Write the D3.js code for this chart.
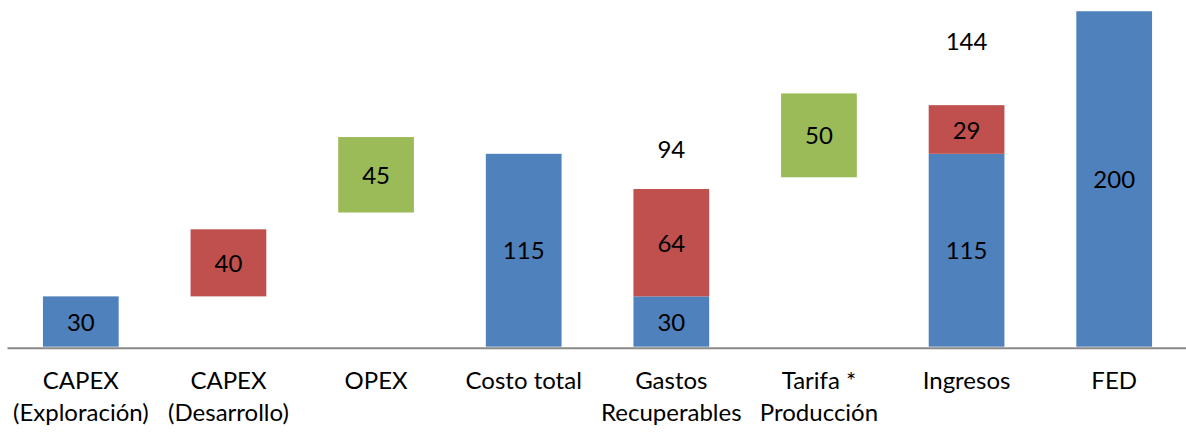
<!DOCTYPE html>
<html>
<head>
<meta charset="utf-8">
<script src="https://cdn.jsdelivr.net/npm/d3@7"></script>
<style>
  body { margin: 0; background: #fff; }
  #chart svg { display: block; }
  #chart text { font-family: Lato, "Open Sans", sans-serif; fill: #000; }
</style>
</head>
<body>
<div id="chart"></div>
<script>
// categorias (salto de linea = segunda linea de la etiqueta)
const categories = [
  "CAPEX\n(Exploración)", "CAPEX\n(Desarrollo)", "OPEX", "Costo total",
  "Gastos\nRecuperables", "Tarifa *\nProducción", "Ingresos", "FED"
];
// serie invisible que levanta las barras flotantes
const base_values   = [0, 30, 80, 0, 0, 101, 0, 0];
const blue_values   = [30, 0, 0, 115, 30, 0, 115, 200];
const red_values    = [0, 40, 0, 0, 64, 0, 29, 0];
const green_values  = [0, 0, 45, 0, 0, 50, 0, 0];
// serie invisible encima, su etiqueta muestra el total
const spacer_values = [0, 0, 0, 0, 48, 0, 77, 0];
const total_labels  = [null, null, null, null, 94, null, 144, null];

const __CONFIG__ = {
  main_id: "chart",
  width: 1186,
  height: 432,
  y_max: 206.7,
  font_size: 24,
  colors: {base: "none", blue: "#4F81BD", red: "#C0504D", green: "#9BBB59", spacer: "none"}
};

function select_main(config=__CONFIG__) {
  return d3.select(`#${config.main_id}`);
}

function draw_chart(config=__CONFIG__) {
  const svg = select_main().append("svg")
    .attr("width", config.width)
    .attr("height", config.height);

  const keys = ["base", "blue", "red", "green", "spacer"];
  const rows = categories.map((c, i) => ({
    idx: i,
    base: base_values[i],
    blue: blue_values[i],
    red: red_values[i],
    green: green_values[i],
    spacer: spacer_values[i]
  }));
  const series = d3.stack().keys(keys)(rows);

  const x = d3.scaleBand()
    .domain(d3.range(categories.length))
    .range([7, 1188])
    .paddingInner(0.487)
    .paddingOuter(0.2435);
  const y = d3.scaleLinear()
    .domain([0, config.y_max])
    .range([346.7, 0]);

  // barras
  const groups = svg.selectAll("g.series")
    .data(series)
    .join("g")
    .classed("series", true)
    .attr("fill", d => config.colors[d.key]);

  groups.selectAll("rect")
    .data(d => d.filter(p => p[1] - p[0] > 0))
    .join("rect")
    .attr("x", p => x(p.data.idx))
    .attr("width", x.bandwidth())
    .attr("y", p => y(p[1]))
    .attr("height", p => y(p[0]) - y(p[1]));

  // etiquetas de valor dentro de las barras visibles
  const labels = svg.append("g").attr("font-size", config.font_size);
  for (const s of series) {
    if (s.key == "base") continue;
    for (const p of s) {
      const v = p[1] - p[0];
      if (v <= 0) continue;
      const txt = s.key == "spacer" ? total_labels[p.data.idx] : v;
      if (txt == null) continue;
      labels.append("text")
        .attr("x", x(p.data.idx) + x.bandwidth() / 2)
        .attr("y", (y(p[0]) + y(p[1])) / 2)
        .attr("dy", "0.38em")
        .attr("text-anchor", "middle")
        .text(txt);
    }
  }

  // eje x
  const axis = svg.append("g")
    .attr("transform", "translate(0,347.7)")
    .call(d3.axisBottom(x).tickSize(0).tickFormat(""));
  axis.select(".domain")
    .attr("stroke", "#898989")
    .attr("stroke-width", 2);

  const cat = svg.append("g").attr("font-size", config.font_size);
  cat.selectAll("text")
    .data(categories)
    .join("text")
    .attr("text-anchor", "middle")
    .attr("transform", (d, i) => `translate(${x(i) + x.bandwidth() / 2},389)`)
    .selectAll("tspan")
    .data(d => d.split("\n"))
    .join("tspan")
    .attr("x", 0)
    .attr("y", (d, j) => j * 32)
    .text(d => d);
}

draw_chart();
</script>
</body>
</html>
